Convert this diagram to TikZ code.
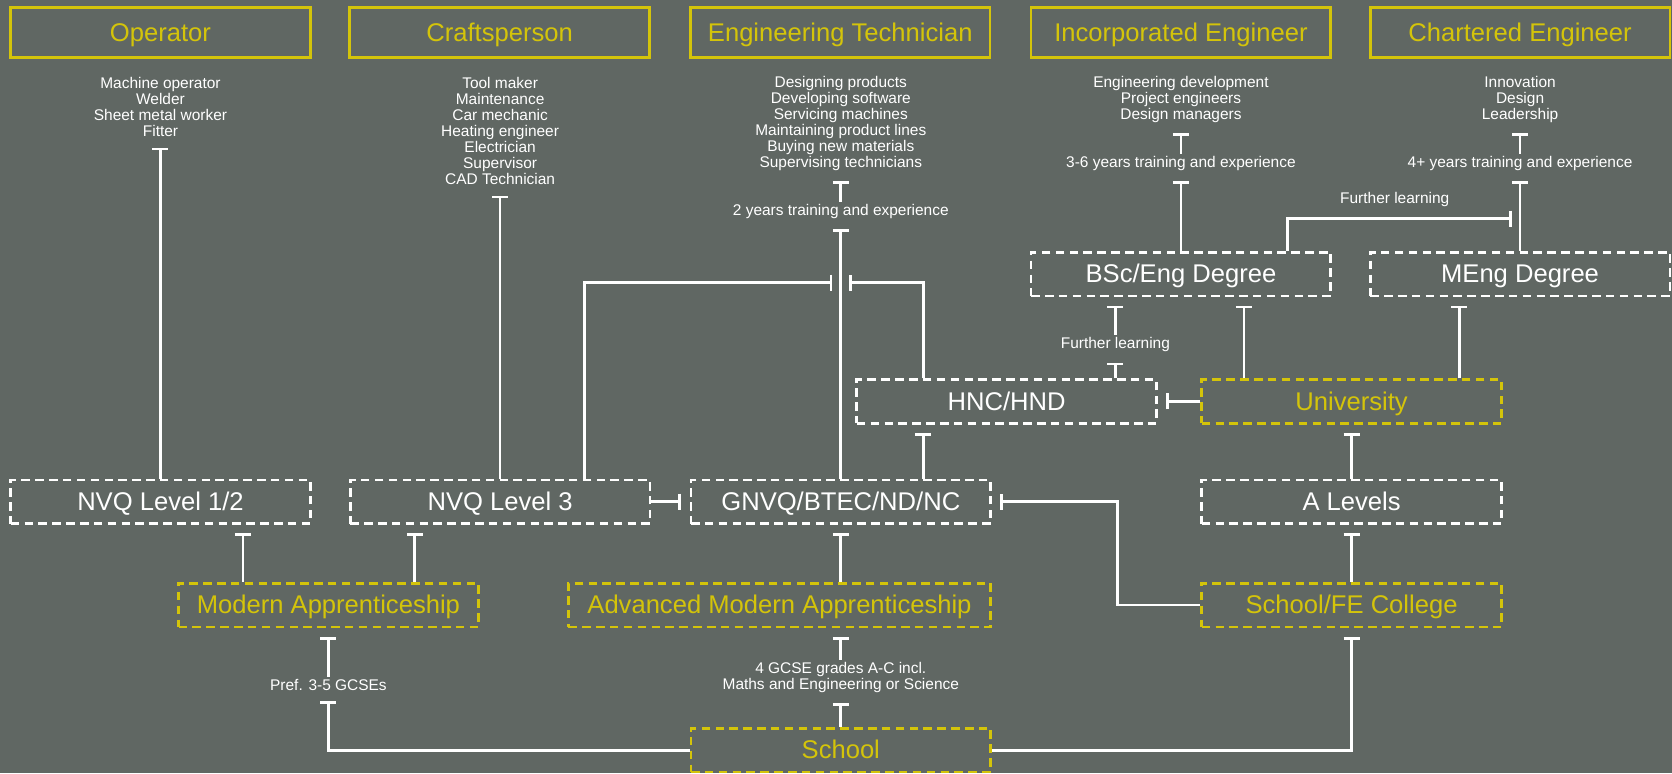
\documentclass[tikz,border=0pt]{standalone}
\usepackage{fontspec}
\setmainfont{Liberation Sans}
\usetikzlibrary{arrows.meta}
\definecolor{bg}{RGB}{96,103,99}
\definecolor{ylw}{RGB}{212,196,10}
\begin{document}
\begin{tikzpicture}[x=1pt,y=-1pt,
  hdr/.style={draw=ylw, line width=2.5pt, text=ylw, minimum width=281pt, minimum height=47pt, inner sep=0pt, text height=19pt, text depth=3pt, font=\fontsize{24}{28}\selectfont},
  wbox/.style={draw=white, line width=2.5pt, dash pattern=on 8pt off 5pt, text=white, minimum width=281pt, minimum height=41pt, inner sep=0pt, text height=19pt, text depth=3pt, font=\fontsize{24}{28}\selectfont},
  ybox/.style={wbox, draw=ylw, text=ylw},
  small/.style={text=white, align=center, inner xsep=2pt, inner ysep=2pt, font=\fontsize{14.5}{15}\selectfont},
  conn/.style={draw=white, line width=2.5pt, shorten >=8pt, -{Bar[width=15pt,line width=2.5pt]}},
]
\fill[bg] (0,0) rectangle (1568,725);
\useasboundingbox (0,0) rectangle (1568,725);

% headers
\node[hdr] (h1) at (150.5,30.5) {Operator};
\node[hdr] (h2) at (468.5,30.5) {Craftsperson};
\node[hdr] (h3) at (788,30.5) {Engineering Technician};
\node[hdr] (h4) at (1107.5,30.5) {Incorporated Engineer};
\node[hdr] (h5) at (1425.5,30.5) {Chartered Engineer};

% job texts
\node[small] (j1) at (150.5,100.5) {Machine operator\\Welder\\Sheet metal worker\\Fitter};
\node[small] (j2) at (469,123) {Tool maker\\Maintenance\\Car mechanic\\Heating engineer\\Electrician\\Supervisor\\CAD Technician};
\node[small] (j3) at (788.5,115.5) {Designing products\\Developing software\\Servicing machines\\Maintaining product lines\\Buying new materials\\Supervising technicians};
\node[small] (j4) at (1107.5,93) {Engineering development\\Project engineers\\Design managers};
\node[small] (j5) at (1425.5,93) {Innovation\\Design\\Leadership};

% labels
\node[small] (t3) at (788.5,198) {2 years training and experience};
\node[small] (t4) at (1107.5,153) {3-6 years training and experience};
\node[small] (t5) at (1425.5,153) {4+ years training and experience};
\node[small] (fl1) at (1308,187) {Further learning};
\node[small] (fl2) at (1046,323) {Further learning};
\node[small] (pref) at (308,642) {Pref. 3-5 GCSEs};
\node[small] (gcse) at (788.5,635) {4 GCSE grades A-C incl.\\Maths and Engineering or Science};

% boxes
\node[wbox] (bsc) at (1107.5,257) {BSc/Eng Degree};
\node[wbox] (meng) at (1425.5,257) {MEng Degree};
\node[wbox] (hnc) at (944,376.5) {HNC/HND};
\node[ybox] (uni) at (1267.5,376.5) {University};
\node[wbox] (nvq12) at (150.5,470.5) {NVQ Level 1/2};
\node[wbox] (nvq3) at (469,470.5) {NVQ Level 3};
\node[wbox] (gnvq) at (788.5,470.5) {GNVQ/BTEC/ND/NC};
\node[wbox] (alev) at (1267.5,470.5) {A Levels};
\node[ybox] (ma) at (308,567.5) {Modern Apprenticeship};
\node[ybox, minimum width=396pt] (ama) at (731,567.5) {Advanced Modern Apprenticeship};
\node[ybox] (sfe) at (1267.5,567.5) {School/FE College};
\node[ybox] (school) at (788.5,703.5) {School};

\coordinate (mg) at (788.5,265);
\coordinate (fe) at (1425.5,205);
\coordinate (hx) at ([xshift=-78pt]hnc.south);

% connectors
\draw[conn] (nvq12.north) -- (nvq12.north |- j1.south);
\draw[conn] (nvq3.north) -- (nvq3.north |- j2.south);
\draw[conn] ([xshift=79pt]nvq3.north) |- (mg);
\draw[conn] (hx |- hnc.north) |- (mg);
\draw[conn] (gnvq.north) -- (gnvq.north |- t3.south);
\draw[conn] (t3.north) -- (t3.north |- j3.south);
\draw[conn] (hx |- gnvq.north) -- (hx);
\draw[conn] (nvq3.east) -- (gnvq.west);
\draw[conn] (sfe.west) -| ([xshift=118pt]gnvq.east) -- (gnvq.east);
\draw[conn] (uni.west) -- (hnc.east);
\draw[conn] (fl2.south |- hnc.north) -- (fl2.south);
\draw[conn] (fl2.north) -- (fl2.north |- bsc.south);
\draw[conn] ([xshift=-101pt]uni.north) -- ([xshift=-101pt]uni.north |- bsc.south);
\draw[conn] ([xshift=101pt]uni.north) -- ([xshift=101pt]uni.north |- meng.south);
\draw[conn] (bsc.north) -- (bsc.north |- t4.south);
\draw[conn] (t4.north) -- (t4.north |- j4.south);
\draw[conn] ([xshift=100pt]bsc.north) |- (fe);
\draw[conn] (meng.north) -- (meng.north |- t5.south);
\draw[conn] (t5.north) -- (t5.north |- j5.south);
\draw[conn] (alev.north) -- (uni.south);
\draw[conn] (sfe.north) -- (alev.south);
\draw[conn] ([xshift=-80pt]ma.north) -- ([xshift=-80pt]ma.north |- nvq12.south);
\draw[conn] ([xshift=81pt]ma.north) -- ([xshift=81pt]ma.north |- nvq3.south);
\draw[conn] (gnvq.south |- ama.north) -- (gnvq.south);
\draw[conn] (school.west) -| (pref.south);
\draw[conn] (pref.north) -- (ma.south);
\draw[conn] (school.north) -- (gcse.south);
\draw[conn] (gcse.north) -- (gcse.north |- ama.south);
\draw[conn] (school.east) -| (sfe.south);
\end{tikzpicture}
\end{document}
